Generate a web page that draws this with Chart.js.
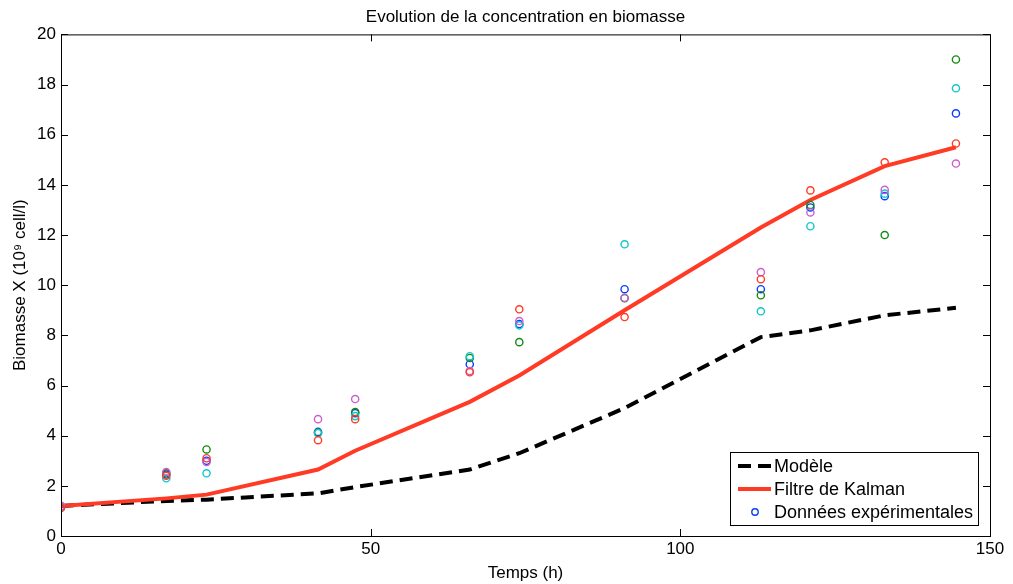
<!DOCTYPE html>
<html>
<head>
<meta charset="utf-8">
<script src="https://cdn.jsdelivr.net/npm/chart.js@4.4.0/dist/chart.umd.min.js"></script>
<style>
  html, body { margin: 0; padding: 0; background: #fff; }
  #wrap { width: 1013px; height: 584px; }
</style>
</head>
<body>
<div id="wrap"><canvas id="biomasse" width="1013" height="584"></canvas></div>
<script>
// temps des mesures (h)
const temps = [0, 17, 23.5, 41.5, 47.5, 66, 74, 91, 113, 121, 133, 144.5];

// courbes
const modele = [1.2, 1.4, 1.45, 1.7, 1.95, 2.65, 3.3, 5.1, 7.93, 8.2, 8.8, 9.1];
const kalman = [1.2, 1.5, 1.65, 2.65, 3.4, 5.35, 6.4, 9.0, 12.3, 13.4, 14.75, 15.5];

// donnees experimentales (5 essais)
const essaiBleu    = [1.18, 2.45, 3.0, 4.15, 4.9, 6.85, 8.45, 9.84, 9.84, 13.1, 13.55, 16.85];
const essaiVert    = [1.15, 2.5, 3.45, 4.12, 4.94, 7.1, 7.73, 9.48, 9.6, 13.2, 12.0, 19.0];
const essaiRouge   = [1.12, 2.4, 3.1, 3.82, 4.66, 6.53, 9.04, 8.73, 10.24, 13.78, 14.9, 15.65];
const essaiCyan    = [1.16, 2.3, 2.5, 4.1, 4.78, 7.17, 8.4, 11.63, 8.96, 12.35, 13.65, 17.85];
const essaiMagenta = [1.2, 2.55, 2.95, 4.66, 5.46, 6.58, 8.57, 9.5, 10.52, 12.9, 13.8, 14.85];

const xTicks = [0, 50, 100, 150];
const yTicks = [0, 2, 4, 6, 8, 10, 12, 14, 16, 18, 20];

const police = '"Liberation Sans", Arial, sans-serif';
const pts = ys => temps.map((t, i) => ({ x: t, y: ys[i] }));

function essai(label, ys, color, order) {
  return {
    label: label, data: pts(ys), showLine: false,
    borderColor: color, backgroundColor: 'rgba(0,0,0,0)',
    pointStyle: 'circle', pointRadius: 3.6, pointBorderWidth: 1.4, order: order
  };
}

const datasets = [
  { label: 'Modèle', data: pts(modele), showLine: true, borderColor: '#000', borderWidth: 4,
    borderDash: [13, 7], pointRadius: 0, order: 10 },
  { label: 'Filtre de Kalman', data: pts(kalman), showLine: true, borderColor: '#ff3b25', borderWidth: 4,
    pointRadius: 0, order: 9 },
  essai('Données expérimentales', essaiBleu, '#0a3cff', 5),
  essai('vert', essaiVert, '#148a14', 4),
  essai('cyan', essaiCyan, '#10c8cc', 3),
  essai('magenta', essaiMagenta, '#cc5fd0', 2),
  essai('rouge', essaiRouge, '#ff3b25', 1)
];

// cadre + graduations vers l'interieur, facon matlab
const cadre = {
  id: 'cadre',
  afterDatasetsDraw(chart) {
    const { ctx, chartArea: a, scales } = chart;
    ctx.save();
    ctx.strokeStyle = '#000';
    ctx.lineWidth = 1;
    ctx.strokeRect(a.left + 0.5, a.top + 0.5, a.right - a.left, a.bottom - a.top);
    ctx.beginPath();
    xTicks.forEach(v => {
      const px = Math.round(scales.x.getPixelForValue(v)) + 0.5;
      ctx.moveTo(px, a.bottom); ctx.lineTo(px, a.bottom - 7);
      ctx.moveTo(px, a.top); ctx.lineTo(px, a.top + 7);
    });
    yTicks.forEach(v => {
      const py = Math.round(scales.y.getPixelForValue(v)) + 0.5;
      ctx.moveTo(a.left, py); ctx.lineTo(a.left + 7, py);
      ctx.moveTo(a.right, py); ctx.lineTo(a.right - 7, py);
    });
    ctx.stroke();
    ctx.restore();
  }
};

// legende dans le coin bas droit
const legende = {
  id: 'legende',
  afterDraw(chart) {
    const { ctx, chartArea: a } = chart;
    const items = chart.data.datasets.slice(0, 3);
    const w = 248, h = 73;
    const x0 = a.right - 12 - w, y0 = a.bottom - 11 - h;
    ctx.save();
    ctx.fillStyle = '#fff';
    ctx.fillRect(x0, y0, w, h);
    ctx.strokeStyle = '#000';
    ctx.lineWidth = 1;
    ctx.strokeRect(x0 + 0.5, y0 + 0.5, w, h);
    ctx.font = '18px ' + police;
    ctx.textBaseline = 'middle';
    items.forEach((d, i) => {
      const cy = y0 + 14 + i * 23;
      if (d.showLine) {
        ctx.strokeStyle = d.borderColor;
        ctx.lineWidth = 4;
        ctx.setLineDash(d.borderDash || []);
        ctx.beginPath();
        ctx.moveTo(x0 + 8, cy); ctx.lineTo(x0 + 41, cy);
        ctx.stroke();
        ctx.setLineDash([]);
      } else {
        ctx.strokeStyle = d.borderColor;
        ctx.lineWidth = 1.4;
        ctx.beginPath();
        ctx.arc(x0 + 25, cy, 3.2, 0, Math.PI * 2);
        ctx.stroke();
      }
      ctx.fillStyle = '#000';
      ctx.fillText(d.label, x0 + 44, cy + 1);
    });
    ctx.restore();
  }
};

new Chart(document.getElementById('biomasse'), {
  type: 'scatter',
  data: { datasets: datasets },
  options: {
    responsive: false,
    animation: false,
    layout: { padding: { right: 23, left: 0, top: 0, bottom: 0 } },
    plugins: {
      legend: { display: false },
      tooltip: { enabled: false },
      title: {
        display: true, fullSize: false,
        text: 'Evolution de la concentration en biomasse',
        color: '#000',
        font: { family: police, size: 17, weight: 'normal' },
        padding: { top: 7, bottom: 7 }
      }
    },
    scales: {
      x: {
        type: 'linear', min: 0, max: 150,
        afterBuildTicks: s => { s.ticks = xTicks.map(v => ({ value: v })); },
        afterFit: s => { s.height = 48; },
        grid: { display: false, drawTicks: false },
        border: { display: false },
        ticks: { color: '#000', padding: 3, maxRotation: 0,
          font: { family: police, size: 17 } },
        title: { display: true, text: 'Temps (h)', color: '#000', padding: { top: 4, bottom: 0 },
          font: { family: police, size: 17 } }
      },
      y: {
        min: 0, max: 20,
        afterBuildTicks: s => { s.ticks = yTicks.map(v => ({ value: v })); },
        afterFit: s => { s.width = 61; },
        grid: { display: false, drawTicks: false },
        border: { display: false },
        ticks: { color: '#000', padding: 5,
          font: { family: police, size: 17 } },
        title: { display: true, text: 'Biomasse X (10⁹ cell/l)', color: '#000', padding: { top: 10, bottom: 0 },
          font: { family: police, size: 17 } }
      }
    }
  },
  plugins: [cadre, legende]
});
</script>
</body>
</html>
